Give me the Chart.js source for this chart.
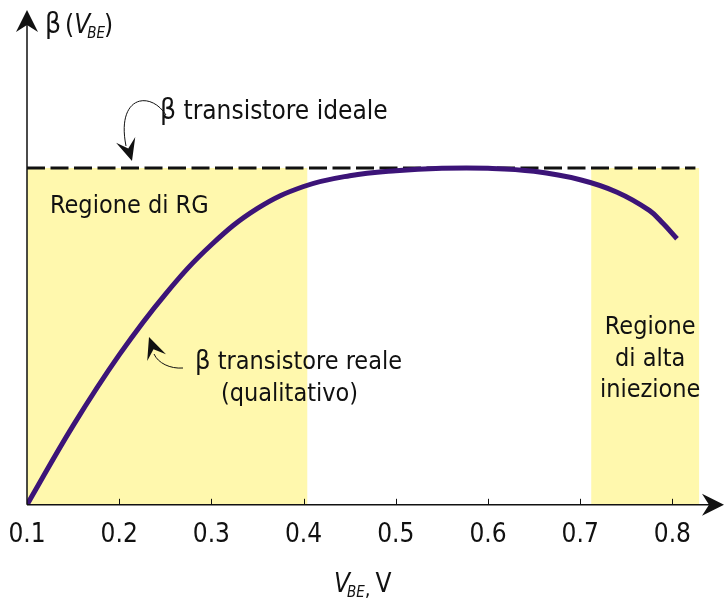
<!DOCTYPE html>
<html>
<head>
<meta charset="utf-8">
<script src="https://cdn.jsdelivr.net/npm/chart.js@4.4.1/dist/chart.umd.min.js"></script>
<style>
html, body { margin: 0; padding: 0; background: #fff; }
#wrap { width: 724px; height: 604px; }
</style>
</head>
<body>
<div id="wrap"><canvas id="chart"></canvas></div>
<script>
const FONT = "'Liberation Sans Narrow', 'DejaVu Sans Condensed', 'Arial Narrow', sans-serif";
const INK = '#111111';

// V_BE samples (V) and the qualitative beta curve, normalised to ideal beta = 1
const vbe = [0.10, 0.15, 0.20, 0.25, 0.30, 0.35, 0.40, 0.45, 0.50, 0.55, 0.60, 0.65, 0.70, 0.74, 0.775, 0.79, 0.805];
const betaReal = [0, 0.235, 0.445, 0.625, 0.772, 0.88, 0.945, 0.977, 0.992, 0.999, 0.999, 0.99, 0.965, 0.928, 0.874, 0.835, 0.79];
const betaIdeal = 1;
const idealSpan = [0.1, 0.825];
const xTicks = [0.1, 0.2, 0.3, 0.4, 0.5, 0.6, 0.7, 0.8];
const rgRegion = [0.1, 0.404];
const highInjRegion = [0.712, 0.829];

// draws a run of text pieces: [text, style, size, dy, dx]
const drawRich = (ctx, x, y, parts) => {
	ctx.textBaseline = 'alphabetic';
	ctx.textAlign = 'left';
	for (const [text, style, size, dy, dx] of parts) {
		ctx.font = `${style} ${size}px ${FONT}`;
		x += dx || 0;
		ctx.fillText(text, x, y + (dy || 0));
		x += ctx.measureText(text).width;
	}
};

// stealth-style arrow head
const arrowHead = (ctx, tx, ty, angle, len, half, notch) => {
	const c = Math.cos(angle), s = Math.sin(angle);
	const bx = tx - len * c, by = ty - len * s;
	ctx.beginPath();
	ctx.moveTo(tx, ty);
	ctx.lineTo(bx - half * s, by + half * c);
	ctx.lineTo(tx - notch * c, ty - notch * s);
	ctx.lineTo(bx + half * s, by - half * c);
	ctx.closePath();
	ctx.fill();
};

const regions = {
	id: 'regions',
	beforeDatasetsDraw: chart => {
		const {ctx, scales: {x, y}} = chart;
		ctx.save();
		ctx.fillStyle = '#fff8ad';
		for (const [a, b] of [rgRegion, highInjRegion]) {
			const x0 = x.getPixelForValue(a), x1 = x.getPixelForValue(b);
			const y0 = y.getPixelForValue(betaIdeal), y1 = y.getPixelForValue(0);
			ctx.fillRect(x0, y0, x1 - x0, y1 - y0);
		}
		ctx.restore();
	}
};

const decor = {
	id: 'decor',
	afterDraw: chart => {
		const {ctx, chartArea: area, scales: {x, y}} = chart;
		const x0 = x.getPixelForValue(0.1), y0 = y.getPixelForValue(0);
		ctx.save();
		ctx.strokeStyle = INK;
		ctx.fillStyle = INK;

		// axes
		ctx.lineWidth = 1.5;
		ctx.beginPath();
		ctx.moveTo(x0, y0);
		ctx.lineTo(x0, area.top + 14);
		ctx.moveTo(x0, y0);
		ctx.lineTo(area.right - 14, y0);
		ctx.stroke();
		arrowHead(ctx, x0, area.top, -Math.PI / 2, 22, 11, 15);
		arrowHead(ctx, area.right, y0, 0, 22, 11, 15);

		// small ticks pointing into the plot
		ctx.lineWidth = 1;
		ctx.beginPath();
		for (const v of xTicks.slice(1)) {
			const px = Math.round(x.getPixelForValue(v)) + 0.5;
			ctx.moveTo(px, y0);
			ctx.lineTo(px, y0 - 6);
		}
		ctx.stroke();

		// axis titles
		drawRich(ctx, x0 + 18, 33, [
			['\u03b2', 'normal', 28], ['(', 'normal', 26, 0, 4],
			['V', 'italic', 26], ['BE', 'italic', 15, 5, -3], [')', 'normal', 26, 0, -1],
		]);
		drawRich(ctx, 334, 592, [
			['V', 'italic', 26], ['BE', 'italic', 15, 5, -3], [',', 'normal', 20, 4], ['V', 'normal', 26, 0, 5],
		]);

		// annotations
		drawRich(ctx, 160, 119, [['\u03b2', 'normal', 28], [' transistore ideale', 'normal', 26]]);
		drawRich(ctx, 50, 213, [['Regione di RG', 'normal', 25]]);
		drawRich(ctx, 195, 369, [['\u03b2', 'normal', 27], [' transistore reale', 'normal', 25]]);
		drawRich(ctx, 221, 401, [['(qualitativo)', 'normal', 25]]);
		ctx.font = `25px ${FONT}`;
		ctx.textAlign = 'center';
		const cx = x.getPixelForValue((highInjRegion[0] + highInjRegion[1]) / 2) + 5;
		ctx.fillText('Regione', cx, 334);
		ctx.fillText('di alta', cx, 366);
		ctx.fillText('iniezione', cx, 397);

		// curved pointers
		ctx.lineWidth = 1;
		ctx.beginPath();
		ctx.moveTo(166, 115);
		ctx.bezierCurveTo(150, 90, 116, 96, 126, 146);
		ctx.stroke();
		arrowHead(ctx, 132, 161, Math.atan2(20, 6), 22, 10, 13);

		ctx.beginPath();
		ctx.moveTo(183, 368);
		ctx.bezierCurveTo(170, 369, 158, 363, 154, 354);
		ctx.stroke();
		arrowHead(ctx, 149, 337, Math.atan2(-19, -7), 22, 10, 13);
		ctx.restore();
	}
};

new Chart(document.getElementById('chart'), {
	type: 'line',
	data: {
		datasets: [
			{
				label: 'reale',
				data: vbe.map((v, i) => ({x: v, y: betaReal[i]})),
				borderColor: '#3c1478',
				borderWidth: 5,
				pointRadius: 0,
				tension: 0.4,
				borderCapStyle: 'butt',
			},
			{
				label: 'ideale',
				data: idealSpan.map(v => ({x: v, y: betaIdeal})),
				borderColor: INK,
				borderWidth: 3,
				borderDash: [18, 5.5],
				pointRadius: 0,
			},
		]
	},
	plugins: [regions, decor],
	options: {
		responsive: true,
		maintainAspectRatio: false,
		animation: false,
		layout: {padding: {left: 27, right: 0, top: 10, bottom: 39}},
		plugins: {legend: {display: false}, tooltip: {enabled: false}},
		scales: {
			x: {
				type: 'linear',
				min: 0.1,
				max: 0.856,
				afterBuildTicks: axis => { axis.ticks = xTicks.map(v => ({value: v})); },
				grid: {display: false, drawTicks: false},
				border: {display: false},
				ticks: {
					color: INK,
					padding: 8,
					maxRotation: 0,
					font: {family: FONT, size: 26, lineHeight: 1.7},
					callback: v => v.toFixed(1),
				},
			},
			y: {
				type: 'linear',
				min: 0,
				max: 1.469,
				display: false,
			}
		}
	}
});
</script>
</body>
</html>
